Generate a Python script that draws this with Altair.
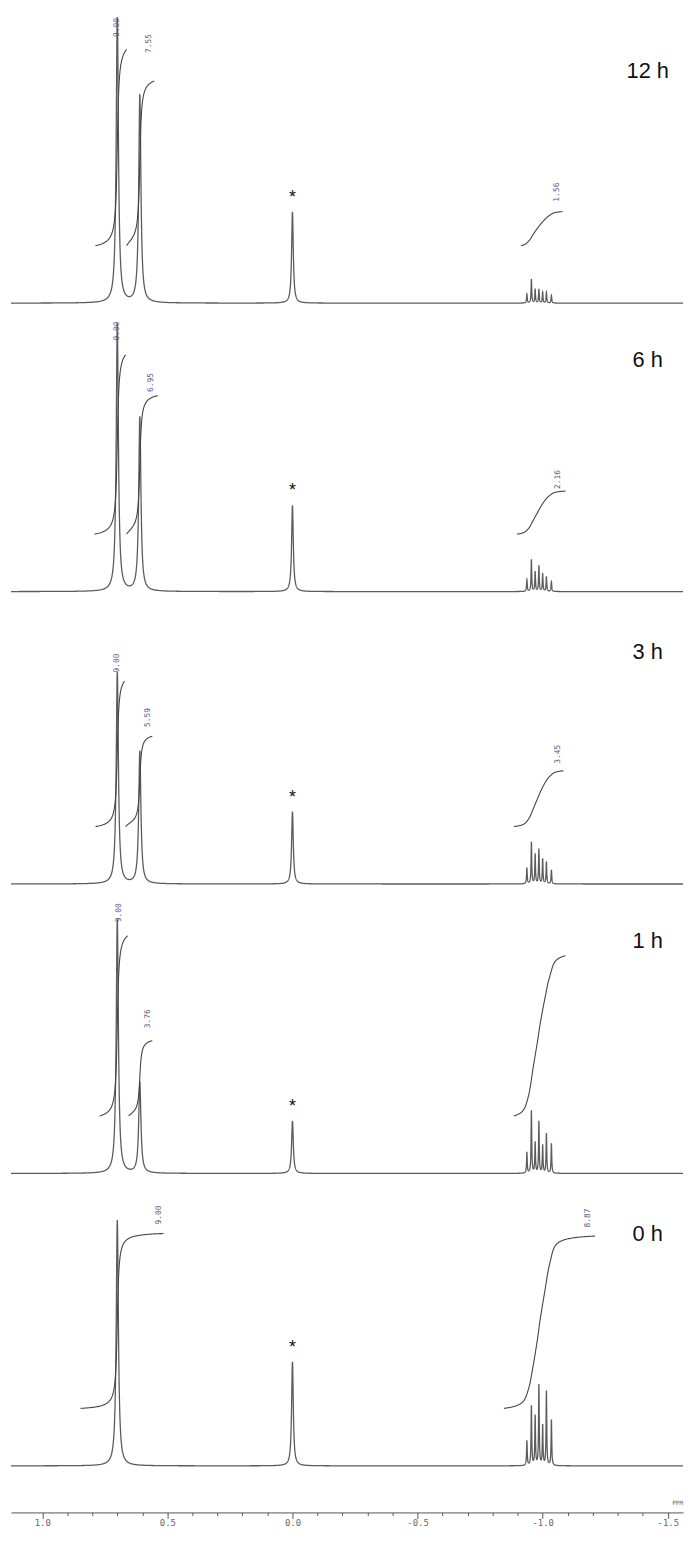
import numpy as np
import pandas as pd
import altair as alt

# ---------------- data ----------------
PANELS = ["12 h", "6 h", "3 h", "1 h", "0 h"]

# main singlets (ppm) and their heights (a.u.) in each panel
MAIN_PPM = [0.70, 0.61]
MAIN_H = [[292, 210], [270, 176], [214, 134], [256, 92], [248, 0]]

# reference (*) peak
STAR_PPM = 0.0
STAR_H = [92, 87, 73, 53, 105]

# multiplet lines near -1.0 ppm
MULT_PPM = [-0.937, -0.955, -0.970, -0.985, -1.000, -1.015, -1.035]
MULT_H = [
    [9, 24, 14, 14, 11, 11, 8],
    [12, 32, 20, 26, 18, 15, 10],
    [16, 42, 30, 35, 25, 22, 14],
    [21, 63, 31, 52, 28, 40, 30],
    [25, 60, 50, 81, 40, 75, 46],
]

# integral regions: (start ppm, end ppm, value, label shown)
INTEGRALS = [
    [(0.790, 0.663, 9.00, True), (0.663, 0.552, 7.55, True), (-0.913, -1.079, 1.56, True)],
    [(0.794, 0.667, 9.00, True), (0.663, 0.536, 6.95, True), (-0.897, -1.091, 2.16, True)],
    [(0.790, 0.671, 9.00, True), (0.667, 0.560, 5.59, True), (-0.885, -1.083, 3.45, True)],
    [(0.774, 0.659, 9.00, True), (0.655, 0.560, 3.76, True), (-0.885, -1.091, 8.00, False)],
    [(0.849, 0.512, 9.00, True), (-0.845, -1.210, 8.87, True)],
]
# label anchor (ppm, height above baseline) for each integral
LABEL_POS = [
    [(0.70, 278), (0.575, 262), (-1.059, 112)],
    [(0.70, 263), (0.567, 211), (-1.063, 113)],
    [(0.70, 223), (0.579, 168), (-1.063, 131)],
    [(0.694, 263), (0.579, 156), None],
    [(0.535, 253), (-1.183, 250)],
]

# ---------------- layout ----------------
BASE = [1220, 929, 634, 342, 47]        # panel baselines (y units above the axis)
INT_START = 58                          # integral curves start height
INT_SCALE = [22.0, 20.1, 16.3, 20.2, 19.6]  # height per integral unit
TIME_Y = 234
X_DOMAIN = [-1.561, 1.125]
Y_TOP = 1508
W, H = 678, 1508

# ---------------- build tables ----------------
G_MAIN, G_STAR, G_MULT = 0.0052, 0.004, 0.0016
G_MULT_INT = 0.010   # smoothing used for the drawn integral of the multiplet


def lor(x, p, h, g):
    return h * g * g / (g * g + (x - p) ** 2)


centers = MAIN_PPM + [STAR_PPM] + MULT_PPM
grid = [np.arange(X_DOMAIN[0], X_DOMAIN[1], 0.004), [X_DOMAIN[1]]]
for c in centers:
    grid.append(np.arange(c - 0.06, c + 0.06, 0.0004))
grid = np.unique(np.round(np.concatenate(grid), 5))

spec_rows, int_rows, lab_rows, star_rows, time_rows = [], [], [], [], []
for k, name in enumerate(PANELS):
    yv = np.zeros_like(grid)
    yi = np.zeros_like(grid)
    for p, h in zip(MAIN_PPM, MAIN_H[k]):
        if h > 0:
            yv += lor(grid, p, h, G_MAIN)
            yi += lor(grid, p, h, G_MAIN)
    yv += lor(grid, STAR_PPM, STAR_H[k], G_STAR)
    for p, h in zip(MULT_PPM, MULT_H[k]):
        yv += lor(grid, p, h, G_MULT)
        yi += lor(grid, p, h, G_MULT_INT)
    for x, v in zip(grid, yv):
        spec_rows.append({"panel": name, "ppm": float(x), "y": min(BASE[k] + float(v), Y_TOP)})

    for j, (p0, p1, val, show) in enumerate(INTEGRALS[k]):
        m = (grid <= p0) & (grid >= p1)
        xs_ = grid[m][::-1]
        ys_ = yi[m][::-1]
        cum = np.concatenate([[0], np.cumsum(0.5 * (ys_[1:] + ys_[:-1]) * -np.diff(xs_))])
        cum = cum / cum[-1]
        for x, c in zip(xs_, cum):
            int_rows.append({"key": f"{name}-{j}", "ppm": float(x),
                             "y": BASE[k] + INT_START + float(c) * val * INT_SCALE[k]})
        lp = LABEL_POS[k][j]
        if show and lp is not None:
            lab_rows.append({"ppm": lp[0], "y": BASE[k] + lp[1], "text": f"{val:.2f}"})

    star_rows.append({"ppm": STAR_PPM, "y": BASE[k] + STAR_H[k] + 14, "text": "*"})
    time_rows.append({"ppm": -1.42, "y": BASE[k] + TIME_Y, "text": name})

spec = pd.DataFrame(spec_rows)
ints = pd.DataFrame(int_rows)
labs = pd.DataFrame(lab_rows)
stars = pd.DataFrame(star_rows)
times = pd.DataFrame(time_rows)

xs = alt.Scale(domain=X_DOMAIN, reverse=True, nice=False, zero=False)
ys = alt.Scale(domain=[0, Y_TOP], nice=False, zero=False)

tick_vals = [float(round(v, 1)) for v in np.arange(-1.5, 1.05, 0.1)]
major = "abs(round(datum.value*10)) % 5 === 0"
x_axis = alt.Axis(
    values=tick_vals,
    tickCount=200,
    title=None,
    grid=False,
    labelOverlap=False,
    labelExpr=f"{major} ? ((datum.value < 0 ? '-' : '') + format(abs(datum.value), '.1f')) : ''",
    tickSize={"condition": {"test": major, "value": 6}, "value": 3},
    tickColor="#555",
    domainColor="#555",
    labelFont="DejaVu Sans Mono",
    labelFontSize=9,
    labelColor="#666",
    labelPadding=0,
)

X = alt.X("ppm:Q", scale=xs, axis=x_axis)
Y = alt.Y("y:Q", scale=ys, axis=None)

lines = alt.Chart(spec).mark_line(color="#5c5c5c", strokeWidth=1.3).encode(
    x=X, y=Y, detail="panel:N", order="ppm:Q")
integ = alt.Chart(ints).mark_line(color="#444", strokeWidth=1.1).encode(
    x=alt.X("ppm:Q", scale=xs), y=alt.Y("y:Q", scale=ys), detail="key:N",
    order=alt.Order("ppm:Q", sort="descending"))
labels = alt.Chart(labs).mark_text(angle=270, align="center", baseline="middle",
                                   font="DejaVu Sans Mono", fontSize=8, color="#5a5a8c").encode(
    x=alt.X("ppm:Q", scale=xs), y=alt.Y("y:Q", scale=ys), text="text:N")
star = alt.Chart(stars).mark_text(font="Liberation Sans", fontSize=18, color="#111",
                                  baseline="middle", align="center").encode(
    x=alt.X("ppm:Q", scale=xs), y=alt.Y("y:Q", scale=ys), text="text:N")
tlab = alt.Chart(times).mark_text(font="Liberation Sans", fontSize=22, color="#111",
                                  baseline="middle", align="center").encode(
    x=alt.X("ppm:Q", scale=xs), y=alt.Y("y:Q", scale=ys), text="text:N")
ppm_lab = alt.Chart(pd.DataFrame({"ppm": [X_DOMAIN[0]], "y": [7], "text": ["PPM"]})).mark_text(
    font="DejaVu Sans Mono", fontSize=6, color="#666", align="right", baseline="bottom").encode(
    x=alt.X("ppm:Q", scale=xs), y=alt.Y("y:Q", scale=ys), text="text:N")

chart = alt.layer(lines, integ, labels, star, tlab, ppm_lab).properties(
    width=W, height=H, padding=0, background="white"
).configure_view(stroke=None)

chart.save("out.html", embed_options={"renderer": "svg", "actions": False})
